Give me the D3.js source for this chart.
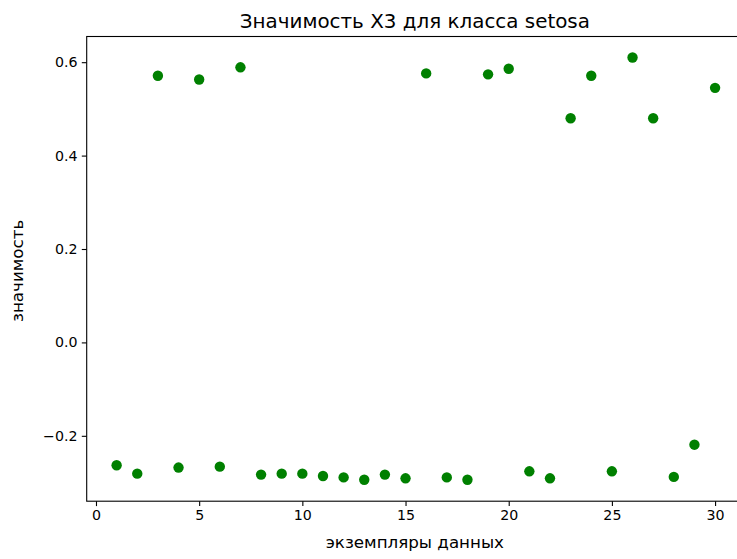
<!DOCTYPE html>
<html>
<head>
<meta charset="utf-8">
<script src="https://cdn.jsdelivr.net/npm/d3@7"></script>
<style>
  body { margin: 0; background: #fff; }
  svg { display: block; font-family: "DejaVu Sans", sans-serif; }
</style>
</head>
<body>
<div id="chart"></div>
<script>
// Data: instance index and importance of X3 for class setosa
const instances = [1, 2, 3, 4, 5, 6, 7, 8, 9, 10,
  11, 12, 13, 14, 15, 16, 17, 18, 19, 20,
  21, 22, 23, 24, 25, 26, 27, 28, 29, 30];
const importance = [-0.263, -0.281, 0.571, -0.268, 0.563, -0.266, 0.589, -0.283, -0.281, -0.281,
  -0.286, -0.289, -0.294, -0.283, -0.291, 0.576, -0.289, -0.294, 0.574, 0.586,
  -0.276, -0.291, 0.480, 0.571, -0.276, 0.610, 0.480, -0.288, -0.219, 0.545];
const xTicks = [0, 5, 10, 15, 20, 25, 30];
const yTicks = [-0.2, 0.0, 0.2, 0.4, 0.6];

const titleText = "Значимость X3 для класса setosa";
const xLabel = "экземпляры данных";
const yLabel = "значимость";

// Figure and axes box (matplotlib-like layout)
const W = 737, H = 559;
const margin = { top: 36.5, left: 86.7, right: 745, bottom: 501.2 };

const svg = d3.select("#chart").append("svg")
  .attr("width", W)
  .attr("height", H);

// Scales, with 5% padding around the data like matplotlib
const xSc = d3.scaleLinear()
  .domain([-0.45, 31.45])
  .range([margin.left, margin.right]);
const ySc = d3.scaleLinear()
  .domain([-0.34, 0.655])
  .range([margin.bottom, margin.top]);

// Points
svg.append("g")
  .selectAll("circle")
  .data(instances)
  .join("circle")
    .attr("cx", d => xSc(d))
    .attr("cy", (d, i) => ySc(importance[i]))
    .attr("r", 5.2)
    .attr("fill", "#008000");

// Axes
const fmtY = d => d3.format(".1f")(d).replace("-", "\u2212");
const xAxis = svg.append("g")
  .attr("transform", `translate(0, ${margin.bottom})`)
  .call(d3.axisBottom(xSc).tickValues(xTicks).tickSize(4.9).tickPadding(3.5).tickFormat(d3.format("d")));
const yAxis = svg.append("g")
  .attr("transform", `translate(${margin.left}, 0)`)
  .call(d3.axisLeft(ySc).tickValues(yTicks).tickSize(4.9).tickPadding(4.3).tickFormat(fmtY));
[xAxis, yAxis].forEach(a => {
  a.select(".domain").remove();
  a.selectAll("line").attr("stroke", "#000").attr("stroke-width", 1.1);
  a.selectAll("text")
    .attr("fill", "#000")
    .attr("font-size", "14.2px")
    .attr("font-family", "DejaVu Sans, sans-serif");
});

// Spines
svg.append("rect")
  .attr("x", margin.left)
  .attr("y", margin.top)
  .attr("width", margin.right - margin.left)
  .attr("height", margin.bottom - margin.top)
  .attr("fill", "none")
  .attr("stroke", "#000")
  .attr("stroke-width", 1.1);

// Title and axis labels
const cx = (margin.left + margin.right) / 2 - 1;
svg.append("text")
  .attr("x", cx)
  .attr("y", 28)
  .attr("text-anchor", "middle")
  .attr("font-size", "19.9px")
  .text(titleText);
svg.append("text")
  .attr("x", cx)
  .attr("y", 548)
  .attr("text-anchor", "middle")
  .attr("font-size", "16.7px")
  .text(xLabel);
svg.append("text")
  .attr("transform", "rotate(-90)")
  .attr("x", -(margin.top + margin.bottom) / 2 - 2)
  .attr("y", 23)
  .attr("text-anchor", "middle")
  .attr("font-size", "16.7px")
  .text(yLabel);
</script>
</body>
</html>
